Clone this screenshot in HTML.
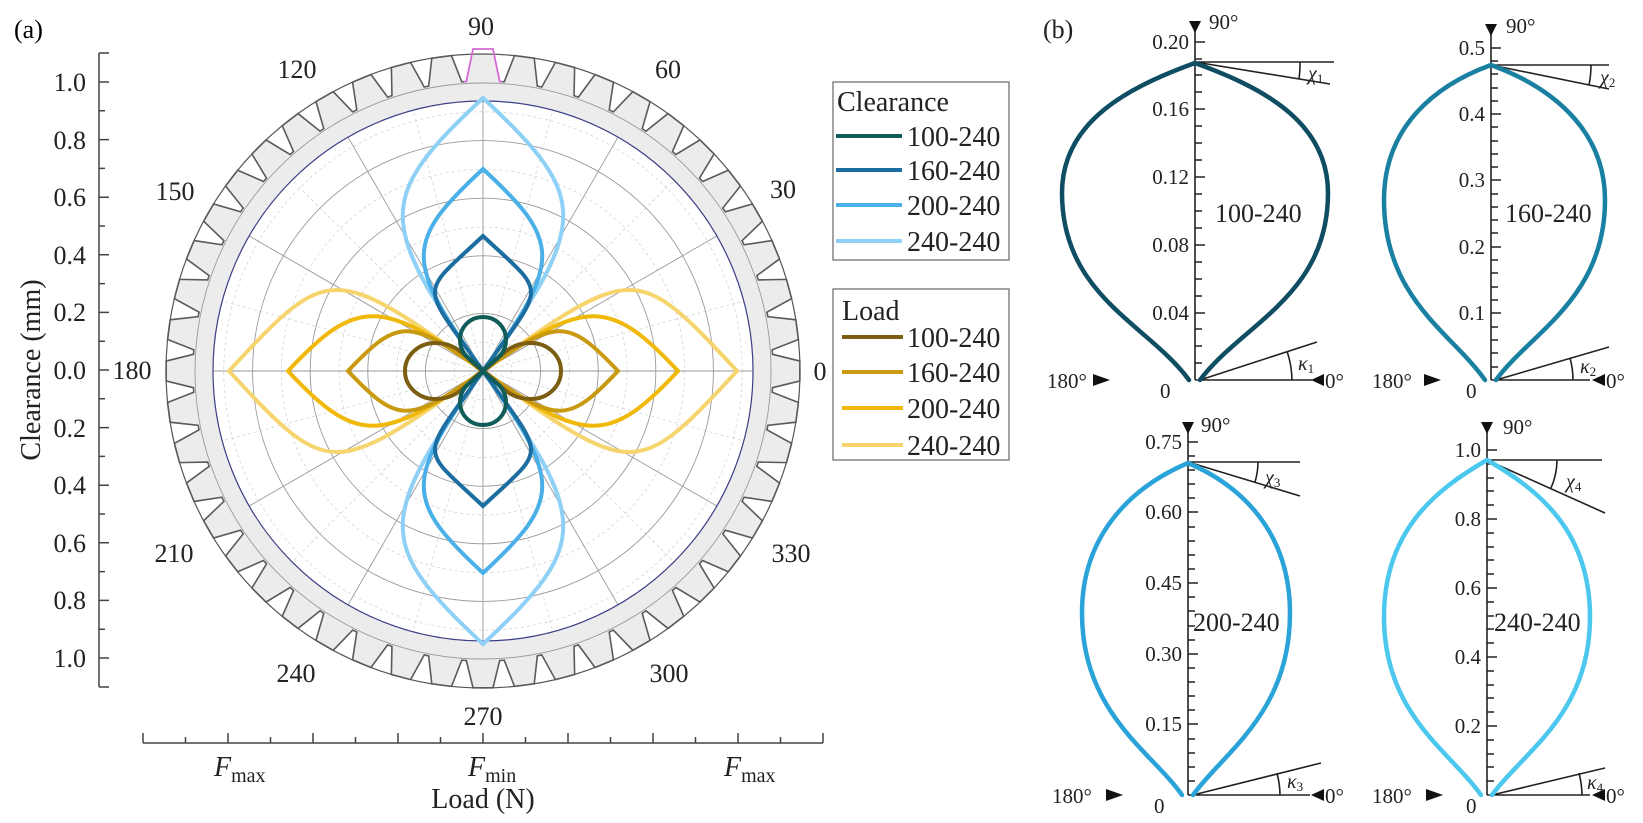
<!DOCTYPE html>
<html><head><meta charset="utf-8">
<style>
html,body{margin:0;padding:0;background:#fff;}
svg{display:block;font-family:"Liberation Serif",serif;}
</style></head>
<body>
<svg width="1643" height="823" viewBox="0 0 1643 823" xmlns="http://www.w3.org/2000/svg">
<defs>
  <path id="tf" d="M-18.97,-289.38 L-16.69,-289.52 L-9.95,-316.84 L9.95,-316.84 L16.69,-289.52 L18.97,-289.38 L17.66,-269.42 L-17.66,-269.42 Z"/>
  <path id="ts" d="M-18.97,-289.38 L-16.69,-289.52 L-9.95,-316.84 L9.95,-316.84 L16.69,-289.52 L18.97,-289.38"/>
  <path id="c240" d="M0,0 C150,-107 173,-107 273,0 C173,107 150,107 0,0"/>
  <path id="c200" d="M0,0 C110,-79 129,-79 202,0 C129,79 110,79 0,0"/>
  <path id="c160" d="M0,0 C90,-64 75,-64 135,0 C75,64 90,64 0,0"/>
  <path id="c100" d="M0,0 C10,-8 14,-23 31,-23 C44,-23 54,-13 54,0 C54,13 44,23 31,23 C14,23 10,8 0,0"/>
  <path id="l240" d="M0,0 C151,-108 154,-108 254,0 C154,108 151,108 0,0"/>
  <path id="l200" d="M0,0 C102,-73 127,-73 195,0 C127,73 102,73 0,0"/>
  <path id="l160" d="M0,0 C74,-53 85,-53 135,0 C85,53 74,53 0,0"/>
  <path id="l100" d="M0,0 C16,-10 22,-28 48,-28 C64,-28 78,-16 78,0 C78,16 64,28 48,28 C22,28 16,10 0,0"/>
</defs>

<text x="14" y="38" font-size="26">(a)</text>

<g transform="translate(483,371)">
  <circle r="280" fill="none" stroke="#ececec" stroke-width="21"/>
  <g fill="#ececec">
    <use href="#tf"/><use href="#tf" transform="rotate(7.5)"/><use href="#tf" transform="rotate(15)"/><use href="#tf" transform="rotate(22.5)"/><use href="#tf" transform="rotate(30)"/><use href="#tf" transform="rotate(37.5)"/><use href="#tf" transform="rotate(45)"/><use href="#tf" transform="rotate(52.5)"/><use href="#tf" transform="rotate(60)"/><use href="#tf" transform="rotate(67.5)"/><use href="#tf" transform="rotate(75)"/><use href="#tf" transform="rotate(82.5)"/><use href="#tf" transform="rotate(90)"/><use href="#tf" transform="rotate(97.5)"/><use href="#tf" transform="rotate(105)"/><use href="#tf" transform="rotate(112.5)"/><use href="#tf" transform="rotate(120)"/><use href="#tf" transform="rotate(127.5)"/><use href="#tf" transform="rotate(135)"/><use href="#tf" transform="rotate(142.5)"/><use href="#tf" transform="rotate(150)"/><use href="#tf" transform="rotate(157.5)"/><use href="#tf" transform="rotate(165)"/><use href="#tf" transform="rotate(172.5)"/><use href="#tf" transform="rotate(180)"/><use href="#tf" transform="rotate(187.5)"/><use href="#tf" transform="rotate(195)"/><use href="#tf" transform="rotate(202.5)"/><use href="#tf" transform="rotate(210)"/><use href="#tf" transform="rotate(217.5)"/><use href="#tf" transform="rotate(225)"/><use href="#tf" transform="rotate(232.5)"/><use href="#tf" transform="rotate(240)"/><use href="#tf" transform="rotate(247.5)"/><use href="#tf" transform="rotate(255)"/><use href="#tf" transform="rotate(262.5)"/><use href="#tf" transform="rotate(270)"/><use href="#tf" transform="rotate(277.5)"/><use href="#tf" transform="rotate(285)"/><use href="#tf" transform="rotate(292.5)"/><use href="#tf" transform="rotate(300)"/><use href="#tf" transform="rotate(307.5)"/><use href="#tf" transform="rotate(315)"/><use href="#tf" transform="rotate(322.5)"/><use href="#tf" transform="rotate(330)"/><use href="#tf" transform="rotate(337.5)"/><use href="#tf" transform="rotate(345)"/><use href="#tf" transform="rotate(352.5)"/>
  </g>
  <g fill="none" stroke="#d4d4d4" stroke-width="0.8" stroke-dasharray="3,3">
    <circle r="28.8"/><circle r="86.4"/><circle r="144"/><circle r="201.6"/><circle r="259.2"/>
    <path d="M0,0 L260.8,-69.9 M0,0 L190.9,-190.9 M0,0 L69.9,-260.8 M0,0 L-69.9,-260.8 M0,0 L-190.9,-190.9 M0,0 L-260.8,-69.9 M0,0 L-260.8,69.9 M0,0 L-190.9,190.9 M0,0 L-69.9,260.8 M0,0 L69.9,260.8 M0,0 L190.9,190.9 M0,0 L260.8,69.9"/>
  </g>
  <g fill="none" stroke="#9a9a9a" stroke-width="0.9">
    <circle r="57.6"/><circle r="115.2"/><circle r="172.8"/><circle r="230.4"/><circle r="288"/>
    <path d="M-270,0 H270 M0,-270 V270 M0,0 L233.8,-135 M0,0 L135,-233.8 M0,0 L-135,-233.8 M0,0 L-233.8,-135 M0,0 L-233.8,135 M0,0 L-135,233.8 M0,0 L135,233.8 M0,0 L233.8,135"/>
  </g>
  <circle r="270" fill="none" stroke="#3c3f86" stroke-width="1.2"/>
  <circle r="317" fill="none" stroke="#555" stroke-width="1.2"/>
  <g fill="none" stroke="#5a5a5a" stroke-width="1.6">
    <use href="#ts" transform="rotate(7.5)"/><use href="#ts" transform="rotate(15)"/><use href="#ts" transform="rotate(22.5)"/><use href="#ts" transform="rotate(30)"/><use href="#ts" transform="rotate(37.5)"/><use href="#ts" transform="rotate(45)"/><use href="#ts" transform="rotate(52.5)"/><use href="#ts" transform="rotate(60)"/><use href="#ts" transform="rotate(67.5)"/><use href="#ts" transform="rotate(75)"/><use href="#ts" transform="rotate(82.5)"/><use href="#ts" transform="rotate(90)"/><use href="#ts" transform="rotate(97.5)"/><use href="#ts" transform="rotate(105)"/><use href="#ts" transform="rotate(112.5)"/><use href="#ts" transform="rotate(120)"/><use href="#ts" transform="rotate(127.5)"/><use href="#ts" transform="rotate(135)"/><use href="#ts" transform="rotate(142.5)"/><use href="#ts" transform="rotate(150)"/><use href="#ts" transform="rotate(157.5)"/><use href="#ts" transform="rotate(165)"/><use href="#ts" transform="rotate(172.5)"/><use href="#ts" transform="rotate(180)"/><use href="#ts" transform="rotate(187.5)"/><use href="#ts" transform="rotate(195)"/><use href="#ts" transform="rotate(202.5)"/><use href="#ts" transform="rotate(210)"/><use href="#ts" transform="rotate(217.5)"/><use href="#ts" transform="rotate(225)"/><use href="#ts" transform="rotate(232.5)"/><use href="#ts" transform="rotate(240)"/><use href="#ts" transform="rotate(247.5)"/><use href="#ts" transform="rotate(255)"/><use href="#ts" transform="rotate(262.5)"/><use href="#ts" transform="rotate(270)"/><use href="#ts" transform="rotate(277.5)"/><use href="#ts" transform="rotate(285)"/><use href="#ts" transform="rotate(292.5)"/><use href="#ts" transform="rotate(300)"/><use href="#ts" transform="rotate(307.5)"/><use href="#ts" transform="rotate(315)"/><use href="#ts" transform="rotate(322.5)"/><use href="#ts" transform="rotate(330)"/><use href="#ts" transform="rotate(337.5)"/><use href="#ts" transform="rotate(345)"/><use href="#ts" transform="rotate(352.5)"/>
  </g>
  <path d="M-18.97,-289.38 L-16.69,-289.52 L-9.95,-322 L9.95,-322 L16.69,-289.52 L18.97,-289.38" fill="none" stroke="#d46ad4" stroke-width="1.8"/>

  <g fill="none" stroke-width="4">
    <use href="#l240" stroke="#f6d46e"/><use href="#l240" stroke="#f6d46e" transform="rotate(180)"/>
    <use href="#l200" stroke="#f0b808"/><use href="#l200" stroke="#f0b808" transform="rotate(180)"/>
    <use href="#l160" stroke="#c99a10"/><use href="#l160" stroke="#c99a10" transform="rotate(180)"/>
    <use href="#l100" stroke="#7c5e12"/><use href="#l100" stroke="#7c5e12" transform="rotate(180)"/>
  </g>
  <g fill="none" stroke-width="4">
    <use href="#c240" stroke="#8fd0f6" transform="rotate(-90)"/><use href="#c240" stroke="#8fd0f6" transform="rotate(90)"/>
    <use href="#c200" stroke="#4bb0e8" transform="rotate(-90)"/><use href="#c200" stroke="#4bb0e8" transform="rotate(90)"/>
    <use href="#c160" stroke="#1d6ea0" transform="rotate(-90)"/><use href="#c160" stroke="#1d6ea0" transform="rotate(90)"/>
    <use href="#c100" stroke="#0f5c58" transform="rotate(-90)"/><use href="#c100" stroke="#0f5c58" transform="rotate(90)"/>
  </g>
</g>

<g font-size="26" fill="#222" text-anchor="middle">
  <text x="481" y="35">90</text>
  <text x="297" y="78">120</text>
  <text x="668" y="78">60</text>
  <text x="175" y="200">150</text>
  <text x="783" y="198">30</text>
  <text x="132" y="379">180</text>
  <text x="820" y="380">0</text>
  <text x="174" y="562">210</text>
  <text x="791" y="562">330</text>
  <text x="296" y="682">240</text>
  <text x="669" y="682">300</text>
  <text x="483" y="725">270</text>
</g>

<g stroke="#444" stroke-width="1.5" fill="none">
  <path d="M99,53 V687 M99,53 h10 M99,687 h10"/>
  <path d="M99,82 h10 M99,139.6 h10 M99,197.2 h10 M99,254.8 h10 M99,312.4 h10 M99,370 h10 M99,427.6 h10 M99,485.2 h10 M99,542.8 h10 M99,600.4 h10 M99,658 h10"/>
  <path d="M99,110.8 h6 M99,168.4 h6 M99,226 h6 M99,283.6 h6 M99,341.2 h6 M99,398.8 h6 M99,456.4 h6 M99,514 h6 M99,571.6 h6 M99,629.2 h6"/>
</g>
<g font-size="26" fill="#222" text-anchor="end">
  <text x="86" y="91">1.0</text><text x="86" y="149">0.8</text><text x="86" y="206">0.6</text><text x="86" y="264">0.4</text><text x="86" y="321">0.2</text><text x="86" y="379">0.0</text><text x="86" y="437">0.2</text><text x="86" y="494">0.4</text><text x="86" y="552">0.6</text><text x="86" y="609">0.8</text><text x="86" y="667">1.0</text>
</g>
<text transform="translate(40,370) rotate(-90)" font-size="28" text-anchor="middle" fill="#222">Clearance (mm)</text>

<g stroke="#444" stroke-width="1.5" fill="none">
  <path d="M143,743 H823 M143,743 v-10 M228,743 v-10 M313,743 v-10 M398,743 v-10 M483,743 v-10 M568,743 v-10 M653,743 v-10 M738,743 v-10 M823,743 v-10"/>
  <path d="M185.5,743 v-6 M270.5,743 v-6 M355.5,743 v-6 M440.5,743 v-6 M525.5,743 v-6 M610.5,743 v-6 M695.5,743 v-6 M780.5,743 v-6"/>
</g>
<g font-size="28" fill="#222">
  <text x="214" y="776"><tspan font-style="italic">F</tspan><tspan font-size="20" dy="6">max</tspan></text>
  <text x="468" y="776"><tspan font-style="italic">F</tspan><tspan font-size="20" dy="6">min</tspan></text>
  <text x="724" y="776"><tspan font-style="italic">F</tspan><tspan font-size="20" dy="6">max</tspan></text>
  <text x="483" y="808" text-anchor="middle">Load (N)</text>
</g>

<g stroke="#666" stroke-width="1.2" fill="#fff">
  <rect x="833" y="82" width="176" height="178"/>
  <rect x="833" y="289" width="176" height="171"/>
</g>
<g stroke-width="4">
  <line x1="836" y1="136" x2="902" y2="136" stroke="#0f5c58"/>
  <line x1="836" y1="170" x2="902" y2="170" stroke="#1d6ea0"/>
  <line x1="836" y1="205" x2="902" y2="205" stroke="#4bb0e8"/>
  <line x1="836" y1="241" x2="902" y2="241" stroke="#8fd0f6"/>
  <line x1="842" y1="337" x2="903" y2="337" stroke="#7c5e12"/>
  <line x1="842" y1="372" x2="903" y2="372" stroke="#c99a10"/>
  <line x1="842" y1="408" x2="903" y2="408" stroke="#f0b808"/>
  <line x1="842" y1="445" x2="903" y2="445" stroke="#f6d46e"/>
</g>
<g font-size="28" fill="#222">
  <text x="837" y="111">Clearance</text>
  <text x="907" y="146">100-240</text><text x="907" y="180">160-240</text><text x="907" y="215">200-240</text><text x="907" y="251">240-240</text>
  <text x="842" y="320">Load</text>
  <text x="907" y="347">100-240</text><text x="907" y="382">160-240</text><text x="907" y="418">200-240</text><text x="907" y="455">240-240</text>
</g>

<text x="1043" y="38" font-size="26" fill="#222">(b)</text>

<g stroke="#222" stroke-width="1.6" fill="none">
  <path d="M1195,380 V30 M1195,380 H1312 M1195,62 H1334 M1195,62 L1330,84 M1200,380 L1317,342 M1300,62 A105,105 0 0 1 1299,79 M1292,380 A97,97 0 0 0 1287,351"/>
  <path d="M1195,42 h10 M1195,109 h10 M1195,177 h10 M1195,245 h10 M1195,313 h10"/>
  <path d="M1195,363 h7 M1195,346 h7 M1195,329 h7 M1195,296 h7 M1195,279 h7 M1195,262 h7 M1195,228 h7 M1195,211 h7 M1195,194 h7 M1195,160 h7 M1195,143 h7 M1195,126 h7 M1195,92 h7 M1195,75 h7 M1195,59 h7"/>
  <path d="M1491,380 V33 M1491,380 H1590 M1491,65 H1609 M1491,65 L1609,89 M1496,380 L1609,347 M1591,65 A100,100 0 0 1 1589,85 M1573,380 A82,82 0 0 0 1570,358"/>
  <path d="M1491,48 h10 M1491,114 h10 M1491,180 h10 M1491,247 h10 M1491,313 h10"/>
  <path d="M1491,367 h7 M1491,353 h7 M1491,340 h7 M1491,327 h7 M1491,300 h7 M1491,287 h7 M1491,273 h7 M1491,260 h7 M1491,233 h7 M1491,220 h7 M1491,207 h7 M1491,194 h7 M1491,167 h7 M1491,154 h7 M1491,141 h7 M1491,127 h7 M1491,101 h7 M1491,88 h7 M1491,74 h7 M1491,61 h7"/>
  <path d="M1188,795 V432 M1188,795 H1310 M1188,462 H1300 M1188,462 L1300,496 M1193,795 L1321,763 M1258,462 A70,70 0 0 1 1255,482 M1280,795 A92,92 0 0 0 1277,773"/>
  <path d="M1188,442 h10 M1188,512 h10 M1188,583 h10 M1188,654 h10 M1188,724 h10"/>
  <path d="M1188,781 h7 M1188,767 h7 M1188,753 h7 M1188,739 h7 M1188,710 h7 M1188,696 h7 M1188,682 h7 M1188,668 h7 M1188,640 h7 M1188,626 h7 M1188,611 h7 M1188,597 h7 M1188,569 h7 M1188,555 h7 M1188,541 h7 M1188,527 h7 M1188,498 h7 M1188,484 h7 M1188,470 h7 M1188,456 h7"/>
  <path d="M1487,795 V432 M1487,795 H1590 M1487,460 H1602 M1487,460 L1605,513 M1492,795 L1605,768 M1557,460 A70,70 0 0 1 1551,488 M1582,795 A95,95 0 0 0 1579,773"/>
  <path d="M1487,450 h10 M1487,519 h10 M1487,588 h10 M1487,657 h10 M1487,726 h10"/>
  <path d="M1487,781 h7 M1487,767 h7 M1487,754 h7 M1487,740 h7 M1487,712 h7 M1487,698 h7 M1487,685 h7 M1487,671 h7 M1487,643 h7 M1487,629 h7 M1487,616 h7 M1487,602 h7 M1487,574 h7 M1487,560 h7 M1487,547 h7 M1487,533 h7 M1487,505 h7 M1487,491 h7 M1487,478 h7 M1487,464 h7"/>
</g>
<g fill="#111">
  <path d="M1189,21 H1201 L1195,33 Z"/><path d="M1485,24 H1497 L1491,36 Z"/>
  <path d="M1182,422 H1194 L1188,434 Z"/><path d="M1481,422 H1493 L1487,434 Z"/>
  <path d="M1324,374 V386 L1311,380 Z"/><path d="M1605,374 V386 L1592,380 Z"/>
  <path d="M1324,789 V801 L1311,795 Z"/><path d="M1605,789 V801 L1592,795 Z"/>
  <path d="M1093,374 V386 L1110,380 Z"/><path d="M1424,374 V386 L1441,380 Z"/>
  <path d="M1106,789 V801 L1123,795 Z"/><path d="M1426,789 V801 L1443,795 Z"/>
</g>

<g fill="none" stroke-width="4.5" stroke-linecap="round">
  <path stroke="#0f4d63" d="M1189,380 C1148,324 1062,296 1062,193 C1062,121 1129,87 1195,63 M1200,380 C1242,324 1328,296 1328,193 C1328,121 1261,87 1195,63"/>
  <path stroke="#1a80a2" d="M1485,380 C1452,333 1384,299 1384,200 C1384,126 1436,85 1491,65 M1496,380 C1530,333 1605,299 1605,200 C1605,126 1546,85 1491,65"/>
  <path stroke="#2aa3d8" d="M1182,795 C1152,752 1082,713 1082,613 C1082,531 1136,485 1188,463 M1193,795 C1224,752 1290,713 1290,613 C1290,531 1240,485 1188,463"/>
  <path stroke="#4cc8ef" d="M1481,795 C1451,752 1384,715 1384,617 C1384,531 1435,490 1487,460 M1492,795 C1523,752 1590,715 1590,617 C1590,531 1539,490 1487,460"/>
</g>

<g font-size="21" fill="#222">
  <g text-anchor="end">
    <text x="1189" y="49">0.20</text><text x="1189" y="116">0.16</text><text x="1189" y="184">0.12</text><text x="1189" y="252">0.08</text><text x="1189" y="320">0.04</text>
    <text x="1485" y="55">0.5</text><text x="1485" y="121">0.4</text><text x="1485" y="187">0.3</text><text x="1485" y="254">0.2</text><text x="1485" y="320">0.1</text>
    <text x="1182" y="449">0.75</text><text x="1182" y="519">0.60</text><text x="1182" y="590">0.45</text><text x="1182" y="661">0.30</text><text x="1182" y="731">0.15</text>
    <text x="1481" y="457">1.0</text><text x="1481" y="526">0.8</text><text x="1481" y="595">0.6</text><text x="1481" y="664">0.4</text><text x="1481" y="733">0.2</text>
  </g>
  <text x="1160" y="398">0</text><text x="1466" y="398">0</text><text x="1154" y="813">0</text><text x="1466" y="813">0</text>
  <text x="1209" y="29">90°</text><text x="1506" y="33">90°</text><text x="1201" y="432">90°</text><text x="1503" y="434">90°</text>
  <text x="1325" y="388">0°</text><text x="1606" y="388">0°</text><text x="1325" y="803">0°</text><text x="1606" y="803">0°</text>
  <text x="1047" y="388">180°</text><text x="1372" y="388">180°</text><text x="1052" y="803">180°</text><text x="1372" y="803">180°</text>
</g>
<g font-size="20" font-style="italic" fill="#222">
  <text x="1308" y="80">χ<tspan font-size="13" font-style="normal" dy="3">1</tspan></text>
  <text x="1600" y="84">χ<tspan font-size="13" font-style="normal" dy="3">2</tspan></text>
  <text x="1265" y="484">χ<tspan font-size="13" font-style="normal" dy="3">3</tspan></text>
  <text x="1566" y="488">χ<tspan font-size="13" font-style="normal" dy="3">4</tspan></text>
  <text x="1298" y="370">κ<tspan font-size="13" font-style="normal" dy="3">1</tspan></text>
  <text x="1580" y="373">κ<tspan font-size="13" font-style="normal" dy="3">2</tspan></text>
  <text x="1287" y="788">κ<tspan font-size="13" font-style="normal" dy="3">3</tspan></text>
  <text x="1587" y="789">κ<tspan font-size="13" font-style="normal" dy="3">4</tspan></text>
</g>
<g font-size="26" fill="#222">
  <text x="1215" y="222">100-240</text>
  <text x="1505" y="222">160-240</text>
  <text x="1193" y="631">200-240</text>
  <text x="1494" y="631">240-240</text>
</g>
</svg>
</body></html>
